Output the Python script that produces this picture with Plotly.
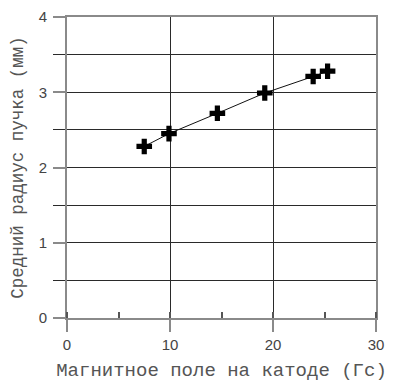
import plotly.graph_objects as go

field_gs = [7.5, 9.9, 14.6, 19.2, 23.9, 25.3]
radius_mm = [2.28, 2.45, 2.72, 2.99, 3.21, 3.28]
x_ticks = [0, 10, 20, 30]
y_ticks = [0, 1, 2, 3, 4]

fig = go.Figure()
fig.add_trace(go.Scatter(
    x=field_gs, y=radius_mm, mode="lines+markers",
    line=dict(color="#111", width=1),
    marker=dict(symbol="cross", size=13, color="black"),
    showlegend=False,
))

axis_line = "#8a8a8a"
grid = "#2a2a2a"
tickfont = dict(family="Liberation Sans, Arial", size=15, color="#444")
xtitlefont = dict(family="Liberation Mono, Courier New", size=19, color="#555")
ytitlefont = dict(family="Liberation Mono, Courier New", size=17.5, color="#555")

fig.update_layout(
    width=386, height=375,
    margin=dict(l=59, r=18, t=9, b=65),
    paper_bgcolor="white", plot_bgcolor="white",
    xaxis=dict(
        range=[0, 30], tickvals=x_ticks, ticktext=[str(v) for v in x_ticks],
        automargin=False, ticklabeloverflow="allow",
        showgrid=True, gridcolor=grid, gridwidth=1.3,
        zeroline=False, showline=True, mirror=True,
        linecolor=axis_line, linewidth=2,
        ticks="outside", ticklen=12, tickcolor=axis_line, tickwidth=2,
        minor=dict(dtick=5, tick0=0, ticks="inside", ticklen=6,
                   tickcolor="#555", tickwidth=2, showgrid=False),
        tickfont=tickfont,
        title=dict(text="Магнитное поле на катоде (Гс)", font=xtitlefont, standoff=11),
    ),
    yaxis=dict(
        range=[0, 4], tickvals=y_ticks, ticktext=[str(v) for v in y_ticks],
        automargin=False, ticklabeloverflow="allow",
        showgrid=True, gridcolor=grid, gridwidth=1.3,
        zeroline=False, showline=True, mirror=True,
        linecolor=axis_line, linewidth=2,
        ticks="outside", ticklen=12, tickcolor=axis_line, tickwidth=2,
        minor=dict(dtick=0.5, tick0=0, ticks="outside", ticklen=12,
                   tickcolor=grid, tickwidth=1.3, showgrid=True,
                   gridcolor=grid, gridwidth=1.3),
        tickfont=tickfont, ticklabelstandoff=3,
        title=dict(text="Средний радиус пучка (мм)\u00a0", font=ytitlefont, standoff=15),
    ),
)

fig.write_html("out.html")
